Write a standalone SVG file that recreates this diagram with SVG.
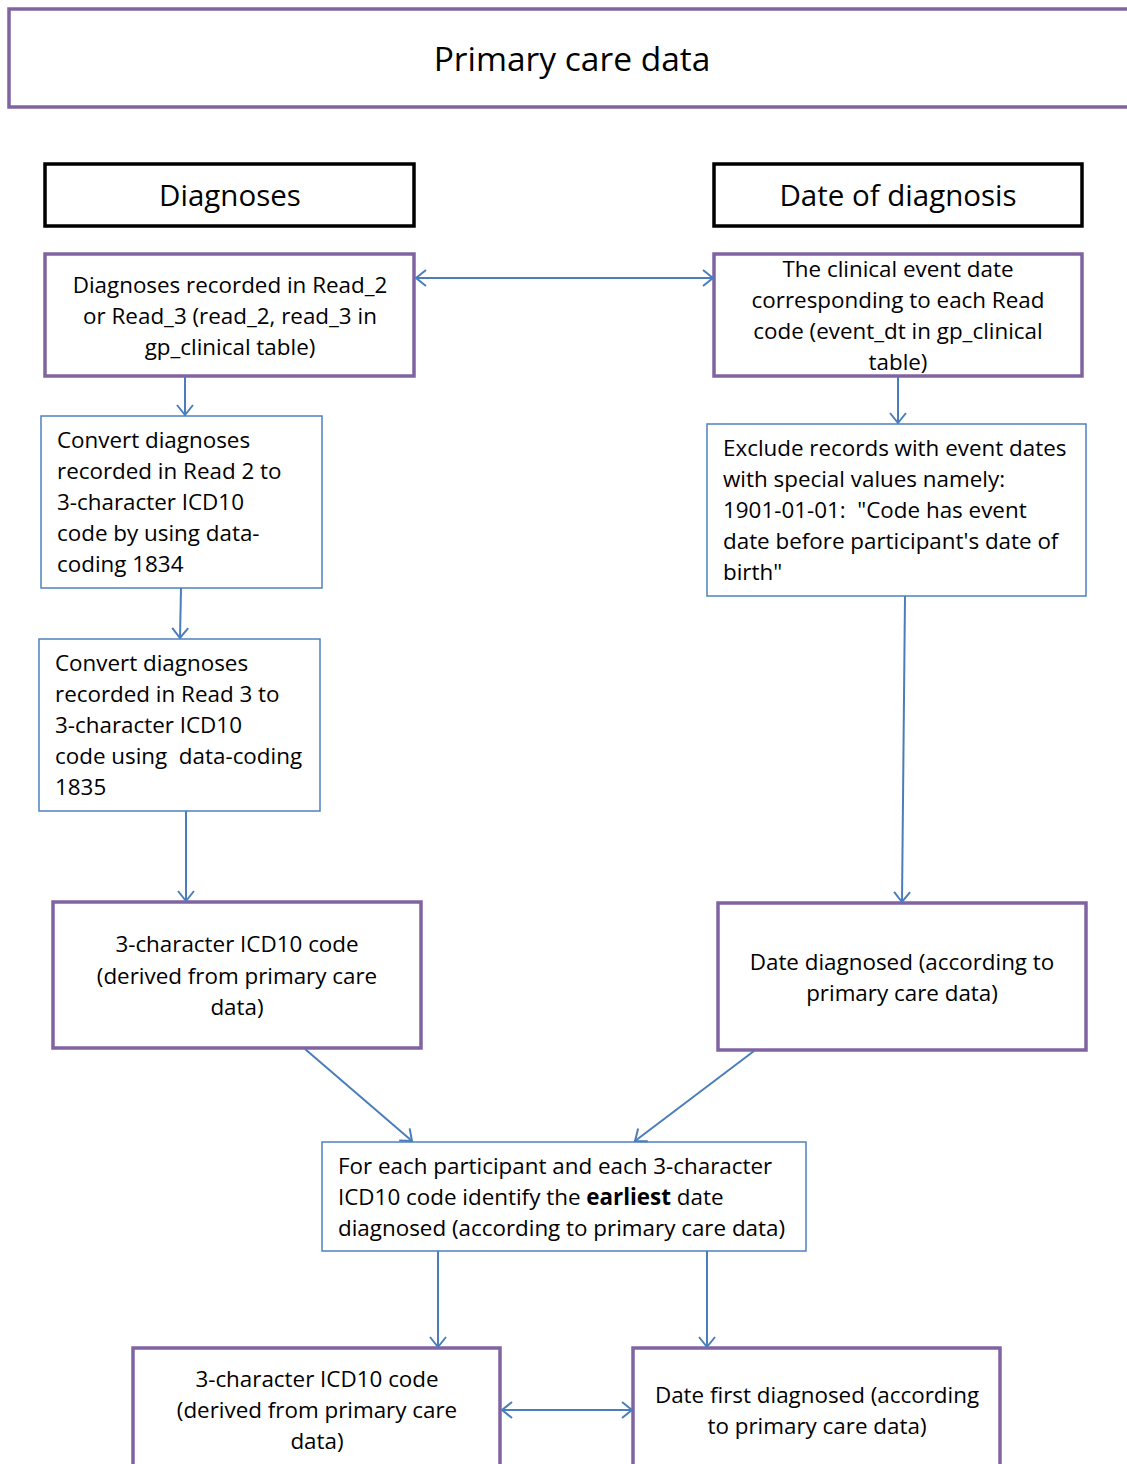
<svg xmlns="http://www.w3.org/2000/svg" width="1127" height="1464" viewBox="0 0 1127 1464">
<style>
text{font-family:"Open Sans","Noto Sans",sans-serif;fill:#000}
.t{font-size:22.4px}
.c{text-anchor:middle}
.purple{fill:#fff;stroke:#8064A2;stroke-width:3.5}
.black{fill:#fff;stroke:#000;stroke-width:3.5}
.blue{fill:#fff;stroke:#4F81BD;stroke-width:1.5}
.conn{stroke:#4A7EBB;stroke-width:2;fill:none}
</style>
<defs>
<marker id="ah" markerUnits="userSpaceOnUse" markerWidth="20" markerHeight="20" refX="16" refY="10" orient="auto-start-reverse" viewBox="0 0 20 20">
<path d="M6,2 L16,10 L6,18" fill="none" stroke="#4A7EBB" stroke-width="2"/>
</marker>
</defs>
<g id="title"><rect class="purple" x="9" y="9" width="1130" height="98"/><text x="572" y="71" class="c" style="font-size:33.5px">Primary care data</text></g>
<g id="hdr-diag"><rect class="black" x="45" y="164" width="369" height="62"/><text x="230" y="206" class="c" style="font-size:29.5px">Diagnoses</text></g>
<g id="hdr-date"><rect class="black" x="714" y="164" width="368" height="62"/><text x="898" y="206" class="c" style="font-size:29.5px">Date of diagnosis</text></g>
<g id="read"><rect class="purple" x="45" y="254" width="369" height="122"/>
<text class="t c" x="230"><tspan x="230" y="293">Diagnoses recorded in Read_2</tspan><tspan x="230" y="324">or Read_3 (read_2, read_3 in</tspan><tspan x="230" y="355">gp_clinical table)</tspan></text></g>
<g id="eventdt"><rect class="purple" x="714" y="254" width="368" height="122"/>
<text class="t c" x="898"><tspan x="898" y="277">The clinical event date</tspan><tspan x="898" y="308">corresponding to each Read</tspan><tspan x="898" y="339">code (event_dt in gp_clinical</tspan><tspan x="898" y="370">table)</tspan></text></g>
<g id="conv2"><rect class="blue" x="41" y="416" width="281" height="172"/>
<text class="t"><tspan x="57" y="448">Convert diagnoses</tspan><tspan x="57" y="479">recorded in Read 2 to</tspan><tspan x="57" y="510">3-character ICD10</tspan><tspan x="57" y="541">code by using data-</tspan><tspan x="57" y="572">coding 1834</tspan></text></g>
<g id="conv3"><rect class="blue" x="39" y="639" width="281" height="172"/>
<text class="t"><tspan x="55" y="671">Convert diagnoses</tspan><tspan x="55" y="702">recorded in Read 3 to</tspan><tspan x="55" y="733">3-character ICD10</tspan><tspan x="55" y="764">code using &#160;data-coding</tspan><tspan x="55" y="795">1835</tspan></text></g>
<g id="exclude"><rect class="blue" x="707" y="424" width="379" height="172"/>
<text class="t"><tspan x="723" y="456">Exclude records with event dates</tspan><tspan x="723" y="487">with special values namely:</tspan><tspan x="723" y="518">1901-01-01: &#160;"Code has event</tspan><tspan x="723" y="549">date before participant's date of</tspan><tspan x="723" y="580">birth"</tspan></text></g>
<g id="icd1"><rect class="purple" x="53" y="902" width="368" height="146"/>
<text class="t c"><tspan x="237" y="952">3-character ICD10 code</tspan><tspan x="237" y="984">(derived from primary care</tspan><tspan x="237" y="1015">data)</tspan></text></g>
<g id="date1"><rect class="purple" x="718" y="903" width="368" height="147"/>
<text class="t c"><tspan x="902" y="970">Date diagnosed (according to</tspan><tspan x="902" y="1001">primary care data)</tspan></text></g>
<g id="earliest"><rect class="blue" x="322" y="1142" width="484" height="109"/>
<text class="t"><tspan x="338" y="1174">For each participant and each 3-character</tspan><tspan x="338" y="1205">ICD10 code identify the <tspan font-weight="bold">earliest</tspan> date</tspan><tspan x="338" y="1236">diagnosed (according to primary care data)</tspan></text></g>
<g id="icd2"><rect class="purple" x="133" y="1348" width="367" height="130"/>
<text class="t c"><tspan x="317" y="1387">3-character ICD10 code</tspan><tspan x="317" y="1418">(derived from primary care</tspan><tspan x="317" y="1449">data)</tspan></text></g>
<g id="date2"><rect class="purple" x="633" y="1348" width="367" height="130"/>
<text class="t c"><tspan x="817" y="1403">Date first diagnosed (according</tspan><tspan x="817" y="1434">to primary care data)</tspan></text></g>
<g id="connectors">
<line class="conn" x1="416" y1="278" x2="713" y2="278" marker-start="url(#ah)" marker-end="url(#ah)"/>
<line class="conn" x1="185" y1="377" x2="185" y2="415" marker-end="url(#ah)"/>
<line class="conn" x1="181" y1="588" x2="180" y2="638" marker-end="url(#ah)"/>
<line class="conn" x1="186" y1="811" x2="186" y2="901" marker-end="url(#ah)"/>
<line class="conn" x1="898" y1="377" x2="898" y2="423" marker-end="url(#ah)"/>
<line class="conn" x1="905" y1="596" x2="902" y2="902" marker-end="url(#ah)"/>
<line class="conn" x1="305" y1="1049" x2="412" y2="1141" marker-end="url(#ah)"/>
<line class="conn" x1="754" y1="1051" x2="635" y2="1141" marker-end="url(#ah)"/>
<line class="conn" x1="438" y1="1251" x2="438" y2="1347" marker-end="url(#ah)"/>
<line class="conn" x1="707" y1="1251" x2="707" y2="1347" marker-end="url(#ah)"/>
<line class="conn" x1="502" y1="1410" x2="632" y2="1410" marker-start="url(#ah)" marker-end="url(#ah)"/>
</g>
</svg>
